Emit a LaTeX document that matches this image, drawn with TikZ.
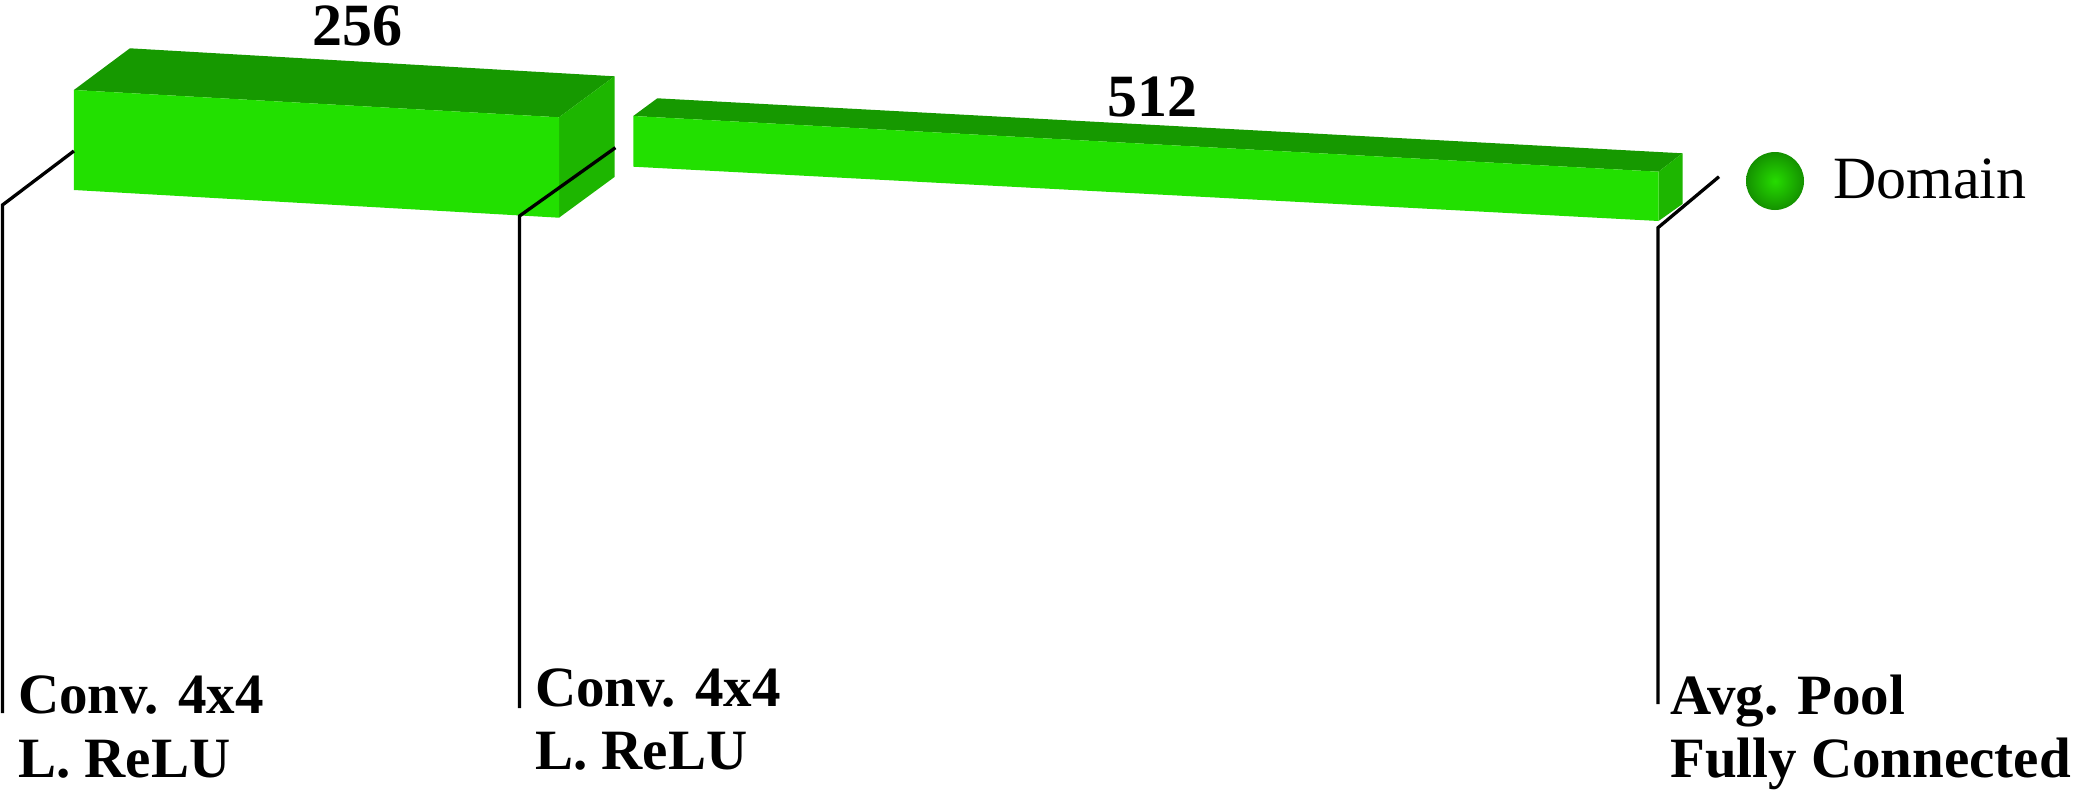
\documentclass[tikz,border=0pt]{standalone}
\usepackage{fontspec}
\setmainfont{Liberation Serif}
\begin{document}
\begin{tikzpicture}[x=1pt,y=-1pt,
  frontface/.style={fill=frontg},
  topface/.style={fill=topg},
  sideface/.style={fill=sideg},
  leader/.style={draw=black,line width=3.3pt,line join=miter},
  lbl/.style={inner sep=0pt,anchor=base west,font=\fontsize{57}{64}\selectfont\bfseries},
  num/.style={inner sep=0pt,anchor=base,font=\fontsize{60}{70}\selectfont\bfseries}]
\definecolor{frontg}{RGB}{34,224,0}
\definecolor{topg}{RGB}{22,153,0}
\definecolor{sideg}{RGB}{29,182,0}
\useasboundingbox (0,0) rectangle (2078,800);
\fill[white] (0,0) rectangle (2078,800);

% block 1
\coordinate (a1) at (73.9,90);
\coordinate (b1) at (559,117.3);
\coordinate (c1) at (559,217.7);
\coordinate (d1) at (73.9,190);
\coordinate (e1) at (129.9,48.3);
\coordinate (f1) at (614.5,76.3);
\coordinate (g1) at (614.5,177);
\fill[topface] (a1) -- (e1) -- (f1) -- (b1) -- cycle;
\fill[sideface] (b1) -- (f1) -- (g1) -- (c1) -- cycle;
\fill[frontface] (a1) -- (b1) -- (c1) -- (d1) -- cycle;
\node[num] (n256) at (357,46) {256};

% block 2
\coordinate (a2) at (633.3,116);
\coordinate (b2) at (1658.5,171.7);
\coordinate (c2) at (1658.5,221);
\coordinate (d2) at (633.3,166.7);
\coordinate (e2) at (657.3,98.3);
\coordinate (f2) at (1682.5,153.3);
\coordinate (g2) at (1682.5,204);
\fill[topface] (a2) -- (e2) -- (f2) -- (b2) -- cycle;
\fill[sideface] (b2) -- (f2) -- (g2) -- (c2) -- cycle;
\fill[frontface] (a2) -- (b2) -- (c2) -- (d2) -- cycle;
\node[num] (n512) at (1152,116) {512};

% output ball
\shade[inner color={rgb,255:red,38;green,220;blue,0},outer color={rgb,255:red,20;green,145;blue,0}] (1775,181) circle (29);
\node[inner sep=0pt,anchor=base west,font=\fontsize{60}{70}\selectfont] (dom) at (1833,198) {Domain};

% leader 1
\coordinate (t1) at (73.9,151);
\coordinate (k1) at (2.5,205);
\coordinate (z1) at (2.5,713);
\draw[leader] (t1) -- (k1) -- (z1);
\node[lbl] (l1a) at (18,713) {Conv. 4x4};
\node[lbl] (l1b) at (18,777) {L. ReLU};

% leader 2
\coordinate (t2) at (615.4,147.7);
\coordinate (k2) at (519.5,216);
\coordinate (z2) at (519.5,708);
\draw[leader] (t2) -- (k2) -- (z2);
\node[lbl] (l2a) at (535,706) {Conv. 4x4};
\node[lbl] (l2b) at (535,769) {L. ReLU};

% leader 3
\coordinate (t3) at (1719,176.7);
\coordinate (k3) at (1658,227.7);
\coordinate (z3) at (1658,704);
\draw[leader] (t3) -- (k3) -- (z3);
\node[lbl] (l3a) at (1670,714) {Avg. Pool};
\node[lbl] (l3b) at (1670,777) {Fully Connected};
\end{tikzpicture}
\end{document}
